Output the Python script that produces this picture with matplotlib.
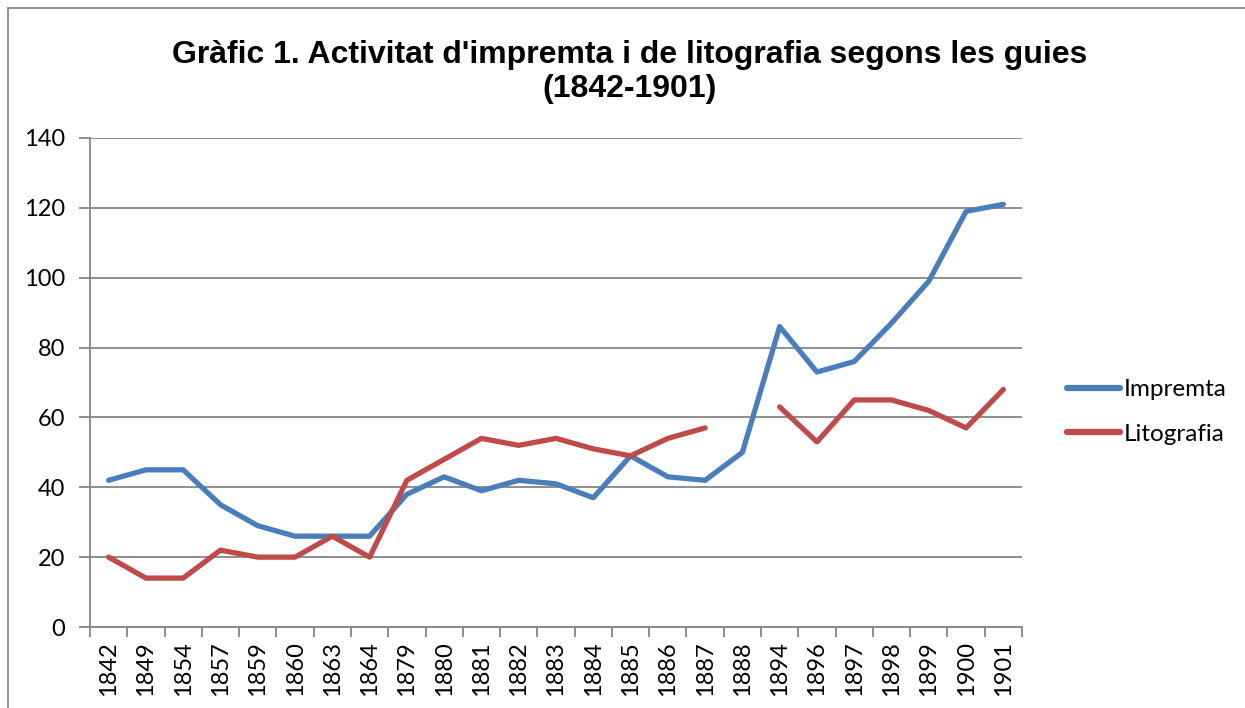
import numpy as np
import matplotlib.pyplot as plt
from matplotlib.lines import Line2D

years = ["1842", "1849", "1854", "1857", "1859", "1860", "1863", "1864", "1879",
         "1880", "1881", "1882", "1883", "1884", "1885", "1886", "1887", "1888",
         "1894", "1896", "1897", "1898", "1899", "1900", "1901"]
impremta = [42, 45, 45, 35, 29, 26, 26, 26, 38, 43, 39, 42, 41, 37, 49, 43, 42, 50,
            86, 73, 76, 87, 99, 119, 121]
litografia = [20, 14, 14, 22, 20, 20, 26, 20, 42, 48, 54, 52, 54, 51, 49, 54, 57, np.nan,
              63, 53, 65, 65, 62, 57, 68]

BLUE = "#4A7EBB"
RED = "#BE4B48"
GRID = "#868686"
TICK_FONT = ["Lato", "DejaVu Sans"]

fig = plt.figure(figsize=(12.45, 7.08), dpi=100)
ax = fig.add_axes([90 / 1245, 1 - 627 / 708, (1022 - 90) / 1245, (627 - 138) / 708])

x = np.arange(len(years))
ax.plot(x, impremta, color=BLUE, lw=3.8, solid_capstyle="round", solid_joinstyle="round",
        label="Impremta", zorder=3)
ax.plot(x, litografia, color=RED, lw=3.8, solid_capstyle="round", solid_joinstyle="round",
        label="Litografia", zorder=3)

ax.set_xlim(-0.5, len(years) - 0.5)
ax.set_ylim(0, 140)
ax.set_yticks(range(0, 141, 20))
ax.yaxis.grid(True, color=GRID, lw=1.3)
ax.set_axisbelow(True)

ax.set_xticks(x)
ax.set_xticklabels(years, rotation=90, fontsize=17, family=TICK_FONT)
ax.set_xticks(np.arange(-0.5, len(years), 1), minor=True)
ax.tick_params(axis="x", which="major", length=0, pad=10)
ax.tick_params(axis="x", which="minor", length=7, width=1.3, color=GRID, direction="out")
ax.tick_params(axis="y", length=8, width=1.3, color=GRID, labelsize=17, pad=10)
for lab in ax.get_yticklabels():
    lab.set_family(TICK_FONT)

for s in ["top", "right"]:
    ax.spines[s].set_visible(False)
for s in ["left", "bottom"]:
    ax.spines[s].set_color(GRID)
    ax.spines[s].set_linewidth(1.3)

fig.text(630 / 1245, 1 - 72 / 708,
         "Gràfic 1. Activitat d'impremta i de litografia segons les guies\n(1842-1901)",
         ha="center", va="center", fontsize=23, fontweight="bold",
         family=["Liberation Sans", "DejaVu Sans"], linespacing=1.15)

handles = [Line2D([], [], color=BLUE, lw=4.5, solid_capstyle="round"),
           Line2D([], [], color=RED, lw=4.5, solid_capstyle="round")]
fig.legend(handles, ["Impremta", "Litografia"], loc="center left",
           bbox_to_anchor=(1045 / 1245, 1 - 412 / 708), frameon=False,
           prop={"family": TICK_FONT, "size": 17.5}, handlelength=2.2, handletextpad=0.15,
           labelspacing=0.95)

# chart border (left and top edges visible)
fig.add_artist(Line2D([8 / 1245, 8 / 1245], [0, 1 - 8 / 708], transform=fig.transFigure,
                      color="#8a8a8a", lw=1.3))
fig.add_artist(Line2D([8 / 1245, 1], [1 - 8 / 708, 1 - 8 / 708], transform=fig.transFigure,
                      color="#8a8a8a", lw=1.3))

fig.savefig("out.png", dpi=100)
